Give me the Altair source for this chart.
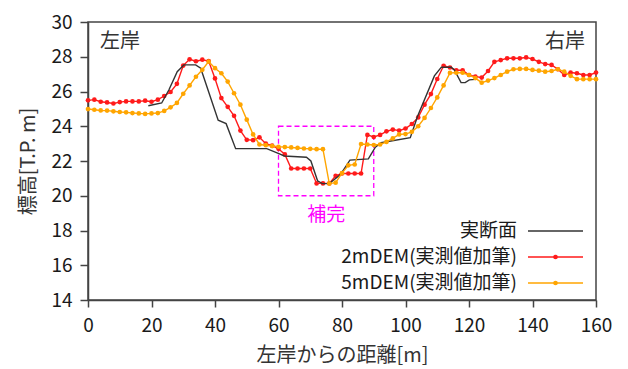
import altair as alt
import pandas as pd

# Cross-section profile of the river channel: distance from left bank [m] vs elevation [T.P. m]
dist = list(range(0, 161, 2))

dem2 = [25.49, 25.53, 25.41, 25.37, 25.31, 25.39, 25.43, 25.43, 25.43, 25.47,
        25.41, 25.53, 25.74, 25.97, 26.44, 27.49, 27.85, 27.74, 27.83, 27.75,
        26.75, 25.62, 25.12, 24.60, 23.75, 23.22, 23.20, 23.36, 23.00, 22.88,
        22.70, 22.38, 21.57, 21.57, 21.57, 21.57, 20.71, 20.71, 20.71, 21.15,
        21.28, 21.28, 21.28, 21.28, 23.50, 23.38, 23.50, 23.71, 23.81, 23.75,
        23.87, 24.13, 24.51, 25.24, 25.85, 26.72, 27.48, 27.38, 27.22, 27.22,
        26.95, 26.86, 26.80, 27.18, 27.71, 27.81, 27.91, 27.91, 27.91, 27.96,
        27.87, 27.71, 27.58, 27.53, 27.28, 26.95, 27.09, 27.05, 26.95, 26.95,
        27.09]

dem5 = [24.99, 24.95, 24.91, 24.90, 24.86, 24.82, 24.80, 24.76, 24.74, 24.71,
        24.74, 24.76, 24.88, 25.09, 25.34, 25.87, 26.35, 26.85, 27.25, 27.72,
        27.34, 27.05, 26.57, 25.90, 25.24, 24.38, 23.53, 22.95, 22.91, 22.86,
        22.82, 22.80, 22.78, 22.75, 22.72, 22.70, 22.68, 22.68, 20.70, 20.75,
        21.30, 21.75, 21.80, 22.98, 22.95, 22.92, 22.95, 23.10, 23.30, 23.53,
        23.55, 23.68, 24.00, 24.48, 25.05, 25.66, 26.35, 27.07, 27.08, 27.08,
        26.95, 26.77, 26.51, 26.63, 26.77, 26.95, 27.14, 27.28, 27.30, 27.30,
        27.24, 27.20, 27.14, 27.18, 27.28, 27.14, 26.90, 26.71, 26.71, 26.71,
        26.71]

# Surveyed cross-section (break points)
sec_x = [19.0, 23.2, 25.5, 28.1, 30.2, 33.9, 35.5, 41.0, 43.5, 46.5, 56.3,
         60.5, 61.8, 68.8, 70.2, 72.3, 73.8, 76.0, 79.6, 82.5, 88.3, 90.5,
         92.3, 101.5, 103.8, 109.1, 111.3, 114.4, 115.4, 117.5, 118.8, 120.1,
         122.0]
sec_y = [25.18, 25.34, 26.10, 27.14, 27.53, 27.53, 27.34, 24.35, 24.15, 22.71,
         22.71, 22.40, 22.29, 22.22, 22.00, 20.86, 20.70, 20.70, 21.24, 22.05,
         22.12, 22.80, 23.05, 23.34, 24.57, 26.90, 27.40, 27.40, 27.24, 26.51,
         26.51, 26.67, 26.70]

# Interpolated (補完) zone
box_x = [60, 90]
box_y = [20, 24]

x_ticks = list(range(0, 161, 20))
y_ticks = list(range(14, 31, 2))

series_names = ["実断面", "2mDEM(実測値加筆)", "5mDEM(実測値加筆)"]
series_colors = ["#333333", "#ff1a1a", "#ffa500"]

FONT = "Noto Sans CJK JP"
W, H = 508, 278

xs = alt.Scale(domain=[0, 160], nice=False, zero=False)
ys = alt.Scale(domain=[14, 30], nice=False, zero=False)

x_axis = alt.Axis(values=x_ticks, title="左岸からの距離[m]",
                  grid=False, tickSize=7, labelPadding=9, titlePadding=10,
                  labelOverlap=False, labelFlush=False)
y_axis = alt.Axis(values=y_ticks, title="標高[T.P. m]",
                  grid=False, tickSize=8, labelPadding=8, titlePadding=12,
                  labelOverlap=False, labelFlush=False)

X = alt.X("x:Q", scale=xs, axis=x_axis)
Y = alt.Y("y:Q", scale=ys, axis=y_axis)

df2 = pd.DataFrame({"x": dist, "y": dem2})
df5 = pd.DataFrame({"x": dist, "y": dem5})
dfs = pd.DataFrame({"x": sec_x, "y": sec_y})
dfbox = pd.DataFrame({"x": [box_x[0]], "x2": [box_x[1]], "y": [box_y[0]], "y2": [box_y[1]]})
dfbox_lbl = pd.DataFrame({"x": [sum(box_x) / 2], "y": [18.9], "t": ["補完"]})

box = alt.Chart(dfbox).mark_rect(
    fill=None, stroke="#ff00ff", strokeDash=[5, 3], strokeWidth=1.3
).encode(x=X, x2="x2", y=Y, y2="y2")

box_lbl = alt.Chart(dfbox_lbl).mark_text(
    font=FONT, fontSize=19, color="#ff00ff"
).encode(x=X, y=Y, text="t:N")

section = alt.Chart(dfs).mark_line(color=series_colors[0], strokeWidth=1.4).encode(x=X, y=Y)

def dem_layer(df, color):
    return alt.Chart(df).mark_line(
        color=color, strokeWidth=1.4,
        point=alt.OverlayMarkDef(filled=True, color=color, size=22, opacity=1),
    ).encode(x=X, y=Y)

red = dem_layer(df2, series_colors[1])
orange = dem_layer(df5, series_colors[2])

# Bank labels
bank_left = alt.Chart(pd.DataFrame({"t": ["左岸"]})).mark_text(
    font=FONT, fontSize=20, color="#333333", align="left", baseline="middle"
).encode(x=alt.value(12), y=alt.value(20), text="t:N")
bank_right = alt.Chart(pd.DataFrame({"t": ["右岸"]})).mark_text(
    font=FONT, fontSize=20, color="#333333", align="right", baseline="middle"
).encode(x=alt.value(497), y=alt.value(20), text="t:N")

# Legend: label on the left, sample line (with dot) on the right
leg_rows = [209, 235, 261]
legend_layers = []
for i, (name, col) in enumerate(zip(series_names, series_colors)):
    ldf = pd.DataFrame({"t": [name]})
    legend_layers.append(
        alt.Chart(ldf).mark_text(
            font=FONT, fontSize=19, color="#1a1a1a", align="right", baseline="middle"
        ).encode(x=alt.value(429), y=alt.value(leg_rows[i]), text="t:N")
    )
    legend_layers.append(
        alt.Chart(ldf).mark_rule(color=col, strokeWidth=1.4).encode(
            x=alt.value(440), x2=alt.value(495), y=alt.value(leg_rows[i])
        )
    )
    if i > 0:
        legend_layers.append(
            alt.Chart(ldf).mark_point(filled=True, color=col, size=22, opacity=1).encode(
                x=alt.value(467.5), y=alt.value(leg_rows[i])
            )
        )

chart = alt.layer(
    box, box_lbl, red, section, orange, bank_left, bank_right, *legend_layers
).properties(
    width=W, height=H,
    padding={"left": 88, "top": 22, "right": 32, "bottom": 69},
    autosize=alt.AutoSizeParams(type="none"),
).configure_view(
    stroke="#444444", strokeWidth=1.5
).configure_axis(
    domainColor="#444444", domainWidth=1.5, tickColor="#444444", tickWidth=1.5,
    labelFont=FONT, labelFontSize=19, labelColor="#1a1a1a",
    titleFont=FONT, titleFontSize=20, titleColor="#333333", titleFontWeight="normal",
)

chart.save("out.html", embed_options={"renderer": "svg", "actions": False})
